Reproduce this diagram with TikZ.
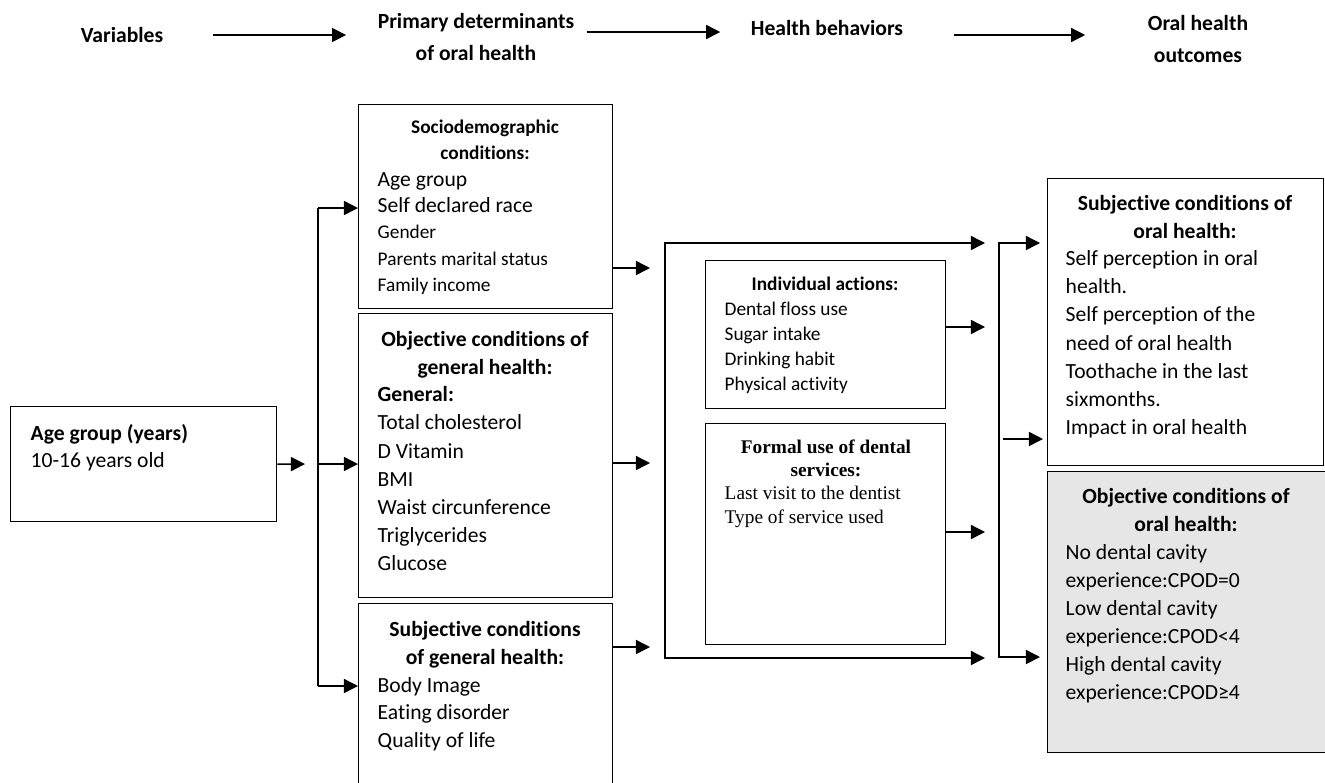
\documentclass[tikz,border=0pt]{standalone}
\usepackage{fontspec}
\setmainfont{Carlito}[Ligatures=NoCommon]
\newfontfamily\timesfont{Liberation Serif}
\usetikzlibrary{arrows.meta,positioning}
\definecolor{outcomegray}{RGB}{230,230,230}

\begin{document}
\begin{tikzpicture}[x=0.02cm,y=-0.02cm,>={Triangle[length=8pt,width=8pt]},line width=0.8pt,
  box/.style={draw,rectangle,anchor=north west,inner sep=0pt},
  stage/.style={font=\bfseries\fontsize{12.3}{17.8}\selectfont,align=center,inner sep=0pt},
  head/.style={font=\bfseries\fontsize{12.3}{15.9}\selectfont,align=center,anchor=north,inner sep=0pt},
  smallhead/.style={font=\bfseries\fontsize{11}{14.8}\selectfont,align=center,anchor=north,inner sep=0pt},
  items/.style={font=\fontsize{12.3}{16}\selectfont,align=left,anchor=north west,inner sep=0pt},
  smallitems/.style={font=\fontsize{11}{14.2}\selectfont,align=left,anchor=north west,inner sep=0pt}]
  \useasboundingbox (0,0) rectangle (1325,782);

  % stages along the top
  \node [stage] (vars)  at (122,35)  {Variables};
  \node [stage] (prim)  at (476,37)  {Primary determinants\\of oral health};
  \node [stage] (behav) at (827,28)  {Health behaviors};
  \node [stage] (outc)  at (1198,39) {Oral health\\outcomes};

  \draw [->,shorten <=0.98cm,shorten >=0.62cm] (vars.east) -- (vars.east -| prim.west);
  \draw [->,shorten <=0.24cm,shorten >=0.6cm] ([yshift=0.1cm]prim.east) -- ([yshift=0.1cm]prim.east -| behav.west);
  \draw [->,shorten <=1cm,shorten >=1.24cm] ([yshift=-0.14cm]behav.east) -- ([yshift=-0.14cm]behav.east -| outc.west);

  % boxes
  \node [box,minimum width=5.32cm,minimum height=2.3cm]  (age)      at (10,406)   {};
  \node [box,minimum width=5.08cm,minimum height=4.08cm] (socio)    at (358,104)  {};
  \node [box,minimum width=5.08cm,minimum height=5.68cm] (objgen)   at (358,313)  {};
  \node [box,minimum width=5.08cm,minimum height=4cm]    (subjgen)  at (358,603)  {};
  \node [box,minimum width=4.8cm,minimum height=2.96cm]  (indiv)    at (705,260)  {};
  \node [box,minimum width=4.8cm,minimum height=4.42cm]  (formal)   at (705,423)  {};
  \node [box,minimum width=5.52cm,minimum height=5.74cm] (subjoral) at (1047,178) {};
  \node [box,fill=outcomegray,minimum width=5.7cm,minimum height=5.62cm] (objoral) at (1047,471) {};

  % box texts
  \node [items,font=\fontsize{12.3}{15.4}\selectfont] (agetxt) at (30,424) {\textbf{Age group (years)}\\10-16 years old};

  \node [smallhead] (sociohead) at (485,119) {Sociodemographic\\conditions:};
  \node [items,font=\fontsize{11}{14.9}\selectfont] (sociotxt) at (377,172)
    {{\fontsize{12.3}{14.9}\selectfont Age group}\\{\fontsize{12.3}{14.9}\selectfont Self declared race}\\Gender\\Parents marital status\\Family income};

  \node [head] (objgenhead) at (485,331) {Objective conditions of\\general health:};
  \node [items] (objgentxt) at (377,386)
    {\textbf{General:}\\Total cholesterol\\D Vitamin\\BMI\\Waist circunference\\Triglycerides\\Glucose};

  \node [head] (subjgenhead) at (485,621) {Subjective conditions\\of general health:};
  \node [items,font=\fontsize{12.3}{15.7}\selectfont] (subjgentxt) at (377,676.5) {Body Image\\Eating disorder\\Quality of life};

  \node [smallhead] (indivhead) at (825,276.5) {Individual actions:};
  \node [smallitems] (indivtxt) at (724,301.5) {Dental floss use\\Sugar intake\\Drinking habit\\Physical activity};

  \node [smallhead,font=\timesfont\bfseries\fontsize{11}{13}\selectfont] (formalhead) at (826,439.5) {Formal use of dental\\services:};
  \node [smallitems,font=\timesfont\fontsize{11}{13.6}\selectfont] (formaltxt) at (724,485.5) {Last visit to the dentist\\Type of service used};

  \node [head] (subjoralhead) at (1185,194.5) {Subjective conditions of\\oral health:};
  \node [items] (subjoraltxt) at (1065,250)
    {Self perception in oral\\health.\\Self perception of the\\need of oral health\\Toothache in the last\\sixmonths.\\Impact in oral health};

  \node [head] (objoralhead) at (1186,488) {Objective conditions of\\oral health:};
  \node [items,font=\fontsize{12.3}{15.9}\selectfont] (objoraltxt) at (1065,544)
    {No dental cavity\\experience:CPOD=0\\Low dental cavity\\experience:CPOD<4\\High dental cavity\\experience:CPOD≥4};

  % variables to determinants
  \coordinate (agetip) at (305,464);
  \coordinate (ltop) at (318,208);
  \coordinate (lmid) at (318,464);
  \coordinate (lbot) at (318,686);
  \draw [->] (age.east) -- (agetip);
  \draw (ltop) -- (lbot);
  \draw [->] (ltop) -- (ltop -| socio.west);
  \draw [->] (lmid) -- (lmid -| objgen.west);
  \draw [->] (lbot) -- (lbot -| subjgen.west);

  % determinants to behaviors
  \coordinate (m1) at (650,268);
  \coordinate (m2) at (650,463);
  \coordinate (m3) at (650,647);
  \draw [->] (m1 -| socio.east) -- (m1);
  \draw [->] (m2 -| objgen.east) -- (m2);
  \draw [->] (m3 -| subjgen.east) -- (m3);

  \coordinate (btop) at (665,243);
  \coordinate (bbot) at (665,658);
  \coordinate (btopend) at (985,243);
  \coordinate (bbotend) at (985,658);
  \draw [<->] (btopend) -- (btop) -- (bbot) -- (bbotend);

  % behaviors to outcomes
  \coordinate (r1) at (985,327);
  \coordinate (r2) at (985,532);
  \draw [->] (r1 -| indiv.east) -- (r1);
  \draw [->] (r2 -| formal.east) -- (r2);

  \coordinate (rtop) at (999,243);
  \coordinate (rbot) at (999,657);
  \coordinate (rmid) at (1003,439);
  \draw [<->,shorten <=0.14cm,shorten >=0.14cm] (rtop -| subjoral.west) -- (rtop) -- (rbot) -- (rbot -| objoral.west);
  \draw [->,shorten >=0.08cm] (rmid) -- (rmid -| subjoral.west);
\end{tikzpicture}
\end{document}
